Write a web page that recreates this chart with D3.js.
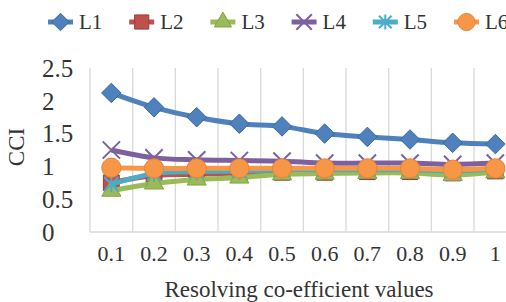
<!DOCTYPE html>
<html>
<head>
  <meta charset="utf-8">
  <title>CCI</title>
  <script src="https://d3js.org/d3.v7.min.js"></script>
<style>
    body { margin: 0; background: #fff; }
    text { font-family: "Liberation Serif", "DejaVu Serif", serif; fill: #333; }
    </style>
</head>
<body>
<div id="chart"></div>
<script>
// chart values
var categories = ["0.1", "0.2", "0.3", "0.4", "0.5", "0.6", "0.7", "0.8", "0.9", "1"];
var seriesNames = ["L1", "L2", "L3", "L4", "L5", "L6"];
var L1 = [2.12, 1.9, 1.75, 1.65, 1.61, 1.5, 1.45, 1.41, 1.36, 1.34];
var L2 = [0.75, 0.86, 0.88, 0.9, 0.91, 0.91, 0.92, 0.92, 0.9, 0.93];
var L3 = [0.63, 0.74, 0.8, 0.83, 0.88, 0.89, 0.9, 0.9, 0.87, 0.91];
var L4 = [1.25, 1.13, 1.1, 1.09, 1.08, 1.05, 1.05, 1.05, 1.03, 1.05];
var L5 = [0.73, 0.89, 0.92, 0.93, 0.95, 0.95, 0.95, 0.95, 0.93, 0.96];
var L6 = [0.98, 0.97, 0.97, 0.97, 0.97, 0.97, 0.97, 0.97, 0.95, 0.97];
var yTicks = [0, 0.5, 1, 1.5, 2, 2.5];

var W = 506, H = 302;
var margin = {top: 68, left: 90, bottom: 70};
var bandW = 42.67;

var svg = d3.select("#chart").append("svg")
    .attr("width", W).attr("height", H);

var x = d3.scaleBand()
    .domain(categories)
    .range([margin.left, margin.left + bandW * categories.length])
    .padding(0);

var y = d3.scaleLinear()
    .domain([0, 2.5])
    .range([H - margin.bottom, margin.top]);

// vertical gridlines at category boundaries
var bounds = categories.map(function(c) { return x(c); }).concat([x.range()[1]]);
svg.append("g").selectAll("line")
  .data(bounds)
  .enter().append("line")
    .attr("x1", function(d) { return d; })
    .attr("x2", function(d) { return d; })
    .attr("y1", y(2.5))
    .attr("y2", y(0))
    .attr("stroke", "#d9d9d9")
    .attr("stroke-width", 1.3);

// bottom axis line
svg.append("line")
  .attr("x1", x.range()[0]).attr("x2", x.range()[1])
  .attr("y1", y(0)).attr("y2", y(0))
  .attr("stroke", "#d9d9d9").attr("stroke-width", 1.3);

// y tick labels
svg.append("g").selectAll("text")
  .data(yTicks)
  .enter().append("text")
    .attr("x", 42)
    .attr("y", function(d) { return y(d); })
    .attr("dy", "0.35em")
    .attr("text-anchor", "start")
    .style("font-size", "25px")
    .text(function(d) { return d; });

// x tick labels
svg.append("g").selectAll("text")
  .data(categories)
  .enter().append("text")
    .attr("x", function(d) { return x(d) + x.bandwidth() / 2; })
    .attr("y", 253)
    .attr("dy", "0.35em")
    .attr("text-anchor", "middle")
    .style("font-size", "22px")
    .text(function(d) { return d; });

// axis titles
svg.append("text")
  .attr("x", 299).attr("y", 297)
  .attr("text-anchor", "middle")
  .style("font-size", "23px")
  .text("Resolving co-efficient values");

svg.append("text")
  .attr("transform", "translate(24,147) rotate(-90)")
  .attr("text-anchor", "middle")
  .style("font-size", "23px")
  .text("CCI");

// custom marker shapes
var symTimes = {
  draw: function(ctx, size) {
    var r = Math.sqrt(size) / 2;
    ctx.moveTo(-r, -r); ctx.lineTo(r, r);
    ctx.moveTo(r, -r); ctx.lineTo(-r, r);
  }
};
var symStar = {
  draw: function(ctx, size) {
    var r = Math.sqrt(size) / 2;
    ctx.moveTo(-r, -r); ctx.lineTo(r, r);
    ctx.moveTo(r, -r); ctx.lineTo(-r, r);
    ctx.moveTo(0, -r * 1.2); ctx.lineTo(0, r * 1.2);
  }
};
var symDiamond = {
  draw: function(ctx, size) {
    var r = Math.sqrt(size) / 2;
    ctx.moveTo(0, -r); ctx.lineTo(r, 0); ctx.lineTo(0, r); ctx.lineTo(-r, 0); ctx.closePath();
  }
};

var series = [
  {name: "L1", values: L1, color: "#4f81bd", edge: "#3a68a0", shape: symDiamond, size: 380, filled: true},
  {name: "L2", values: L2, color: "#c0504d", edge: "#9c3b38", shape: d3.symbolSquare, size: 250, filled: true},
  {name: "L3", values: L3, color: "#9bbb59", edge: "#84a445", shape: d3.symbolTriangle, size: 160, filled: true},
  {name: "L4", values: L4, color: "#7d60a0", edge: "#6a4d8e", shape: symTimes, size: 300, filled: false},
  {name: "L5", values: L5, color: "#4bacc6", edge: "#4bacc6", shape: symStar, size: 200, filled: false},
  {name: "L6", values: L6, color: "#f79646", edge: "#e3853a", shape: d3.symbolCircle, size: 290, filled: true}
];

var line = d3.line()
  .x(function(d, i) { return x(categories[i]) + x.bandwidth() / 2; })
  .y(function(d) { return y(d); })
  .curve(d3.curveCatmullRom.alpha(0.5));

function drawMarker(g, s, px, py, size) {
  g.append("path")
    .attr("transform", "translate(" + px + "," + py + ")")
    .attr("d", d3.symbol().type(s.shape).size(size)())
    .attr("fill", s.filled ? s.color : "none")
    .attr("stroke", s.filled ? s.edge : s.color)
    .attr("stroke-width", s.filled ? 1 : 2);
}

series.forEach(function(s) {
  var g = svg.append("g");
  g.append("path")
    .datum(s.values)
    .attr("fill", "none")
    .attr("stroke", s.color)
    .attr("stroke-width", 5)
    .attr("d", line);
  s.values.forEach(function(v, i) {
    drawMarker(g, s, x(categories[i]) + x.bandwidth() / 2, y(v), s.size);
  });
});

// legend
var legend = svg.append("g");
series.forEach(function(s, i) {
  var lx = 48 + i * 81.2, ly = 22;
  legend.append("line")
    .attr("x1", lx).attr("x2", lx + 25)
    .attr("y1", ly).attr("y2", ly)
    .attr("stroke", s.color).attr("stroke-width", 5);
  drawMarker(legend, s, lx + 12.5, ly, s.size * 0.8);
  legend.append("text")
    .attr("x", lx + 31).attr("y", ly)
    .attr("dy", "0.35em")
    .style("font-size", "21px")
    .text(s.name);
});
</script>
</body>
</html>
